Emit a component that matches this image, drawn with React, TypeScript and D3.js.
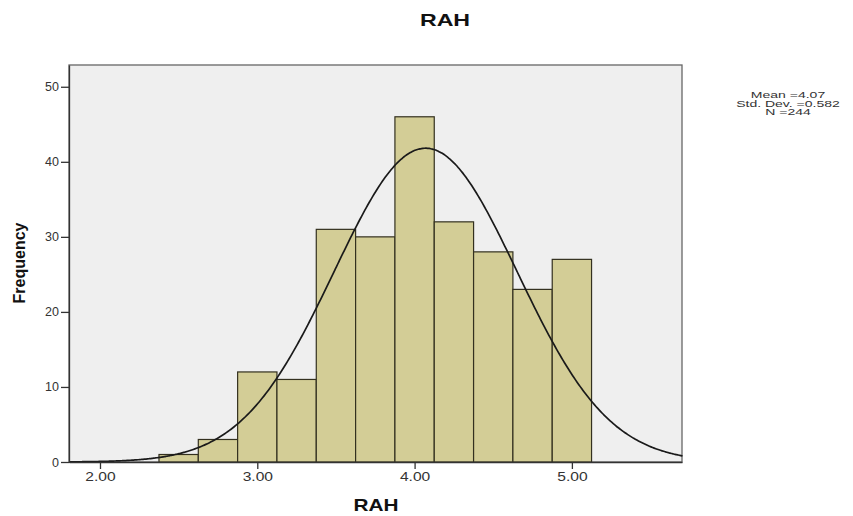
import { useEffect, useRef } from "react";
import * as d3 from "d3";

// histogram of RAH, bins 0.25 wide
const binStarts = [2.375, 2.625, 2.875, 3.125, 3.375, 3.625, 3.875, 4.125, 4.375, 4.625, 4.875];
const counts = [1, 3, 12, 11, 31, 30, 46, 32, 28, 23, 27];
const binWidth = 0.25;
const xTicks = [2, 3, 4, 5];
const yTicks = [0, 10, 20, 30, 40, 50];
const mean = 4.07;
const stdDev = 0.582;
const n = 244;
const legendLines = ["Mean =4.07", "Std. Dev. =0.582", "N =244"];

const width = 853;
const height = 516;
const FONT = "'Liberation Sans', Arial, sans-serif";

const App = () => {
  const ref = useRef<SVGSVGElement>(null);

  useEffect(() => {
    document.body.style.margin = "0";
    const svg = d3.select(ref.current);
    svg.selectAll("*").remove();

    const xScale = d3.scaleLinear().domain([1.803, 5.7]).range([69, 682]);
    const yScale = d3.scaleLinear().domain([0, 52.9]).range([462, 65]);

    // plot background
    svg
      .append("rect")
      .attr("x", xScale.range()[0])
      .attr("y", yScale.range()[1])
      .attr("width", xScale.range()[1] - xScale.range()[0])
      .attr("height", yScale.range()[0] - yScale.range()[1])
      .attr("fill", "#efefef")
      .attr("stroke", "#666")
      .attr("stroke-width", 1.3);

    // bars
    svg
      .append("g")
      .selectAll("rect")
      .data(counts)
      .join("rect")
      .attr("x", (_, i) => xScale(binStarts[i]))
      .attr("width", (_, i) => xScale(binStarts[i] + binWidth) - xScale(binStarts[i]))
      .attr("y", (d) => yScale(d))
      .attr("height", (d) => yScale(0) - yScale(d))
      .attr("fill", "#d3cd96")
      .attr("stroke", "#33301f")
      .attr("stroke-width", 1.2);

    // normal curve from the stats
    const [x0, x1] = xScale.domain();
    const pts = d3.range(x0, x1 + 0.005, 0.01).map((v) => {
      const z = (v - mean) / stdDev;
      const y = (n * binWidth) / (stdDev * Math.sqrt(2 * Math.PI)) * Math.exp(-0.5 * z * z);
      return [v, y] as [number, number];
    });
    const line = d3
      .line<[number, number]>()
      .x((d) => xScale(d[0]))
      .y((d) => yScale(d[1]))
      .curve(d3.curveBasis);
    svg
      .append("path")
      .datum(pts)
      .attr("fill", "none")
      .attr("stroke", "#1a1a1a")
      .attr("stroke-width", 1.7)
      .attr("d", line);

    // x axis
    const xAxis = svg
      .append("g")
      .attr("transform", `translate(0,${yScale(0)})`)
      .call(
        d3
          .axisBottom(xScale)
          .tickValues(xTicks)
          .tickFormat(d3.format(".2f"))
          .tickSize(7)
          .tickSizeOuter(0)
          .tickPadding(3)
      );
    xAxis.select(".domain").attr("stroke", "#333").attr("stroke-width", 1.3);
    xAxis.selectAll(".tick line").attr("stroke", "#333").attr("stroke-width", 1.3);
    xAxis
      .selectAll(".tick text")
      .attr("font-family", FONT)
      .attr("font-size", 13)
      .attr("fill", "#333")
      .attr("transform", "scale(1.2,1)");

    // y axis
    const yAxis = svg
      .append("g")
      .attr("transform", `translate(${xScale.range()[0]},0)`)
      .call(d3.axisLeft(yScale).tickValues(yTicks).tickSize(8).tickSizeOuter(0).tickPadding(2));
    yAxis.select(".domain").attr("stroke", "#333").attr("stroke-width", 1.3);
    yAxis.selectAll(".tick line").attr("stroke", "#333").attr("stroke-width", 1.3);
    yAxis
      .selectAll(".tick text")
      .attr("font-family", FONT)
      .attr("font-size", 12.5)
      .attr("fill", "#333");

    // titles
    svg
      .append("text")
      .attr("transform", "translate(445,26) scale(1.45,1)")
      .attr("text-anchor", "middle")
      .attr("font-family", FONT)
      .attr("font-weight", "bold")
      .attr("font-size", 16)
      .attr("fill", "#111")
      .text("RAH");

    svg
      .append("text")
      .attr("transform", "translate(376,511) scale(1.3,1)")
      .attr("text-anchor", "middle")
      .attr("font-family", FONT)
      .attr("font-weight", "bold")
      .attr("font-size", 16)
      .attr("fill", "#111")
      .text("RAH");

    svg
      .append("text")
      .attr("transform", "translate(25,263) rotate(-90)")
      .attr("text-anchor", "middle")
      .attr("font-family", FONT)
      .attr("font-weight", "bold")
      .attr("font-size", 16)
      .attr("fill", "#111")
      .text("Frequency");

    // stats box
    svg
      .append("g")
      .attr("transform", "translate(788,0) scale(1.65,1)")
      .selectAll("text")
      .data(legendLines)
      .join("text")
      .attr("x", 0)
      .attr("y", (_, i) => 98 + i * 8.7)
      .attr("text-anchor", "middle")
      .attr("font-family", FONT)
      .attr("font-size", 8.5)
      .attr("fill", "#333")
      .text((d) => d);
  }, []);

  return <svg ref={ref} width={width} height={height} style={{ display: "block" }} />;
};

export default App;
